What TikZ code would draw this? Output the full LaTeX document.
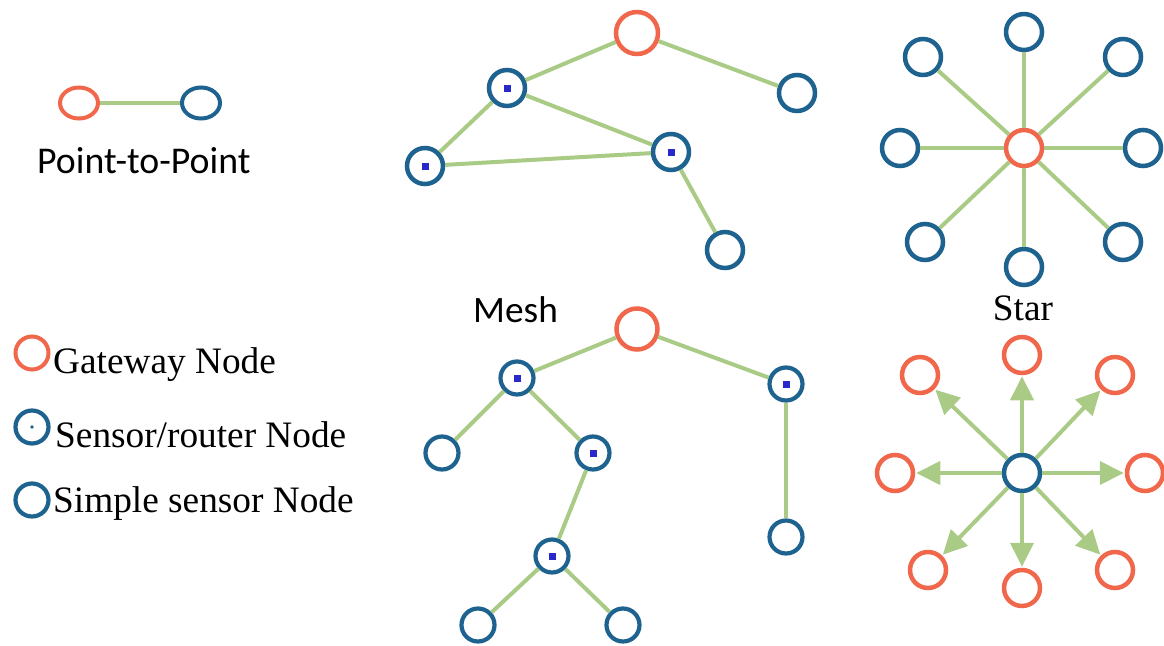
\documentclass[tikz,border=0pt]{standalone}
\usepackage{fontspec}
\setmainfont{Liberation Serif}
\newfontfamily\calib{Carlito}
\usetikzlibrary{shapes.geometric,arrows.meta}
\definecolor{gwc}{RGB}{240,103,75}
\definecolor{bc}{RGB}{30,98,144}
\definecolor{gc}{RGB}{169,203,134}
\definecolor{dc}{RGB}{40,40,205}
\tikzset{
  base/.style={circle,inner sep=0pt,fill=white},
  gw/.style={base,draw=gwc,line width=4.5pt,minimum size=41pt},
  gws/.style={base,draw=gwc,line width=4.5pt,minimum size=36pt},
  ss/.style={base,draw=bc,line width=4.2pt,minimum size=33pt},
  ssb/.style={base,draw=bc,line width=4.5pt,minimum size=36pt},
  srdot/.style={path picture={\fill[dc] (path picture bounding box.center) ++(-3.5pt,-3.5pt) rectangle ++(7pt,7pt);}},
  sr/.style={ss,srdot},
  srb/.style={ssb,srdot},
  ell/.style={ellipse,inner sep=0pt,fill=white,line width=4pt,minimum width=38pt,minimum height=31pt},
  lnk/.style={draw=gc,line width=4pt},
  arr/.style={draw=gc,line width=4pt,-{Triangle[length=24pt 0 0,width=23pt 0 0]},shorten >=1pt},
  sertxt/.style={font=\fontsize{37.3}{40}\selectfont,inner sep=0pt},
  sanstxt/.style={font=\calib\fontsize{37}{40}\selectfont,inner sep=0pt},
}
\begin{document}
\begin{tikzpicture}[x=1pt,y=-1pt]
\useasboundingbox (0,0) rectangle (1164,645);
% Point-to-point legend
\node[ell,draw=gwc] (p1) at (79,103) {};
\node[ell,draw=bc] (p2) at (201,103) {};
\draw[lnk] (p1) -- (p2);
\node[sanstxt,font=\calib\fontsize{37.8}{40}\selectfont,anchor=base west] (ptp) at (37,173) {Point-to-Point};
% node legend
\node[ss,draw=gwc,line width=4pt] (lg) at (32,353) {};
\node[ss] (ls) at (32,427) {};
\fill[bc] (ls.center) circle (1.8pt);
\node[ss] (lp) at (32,500) {};
\node[sertxt,anchor=base west] (tg) at (53,373) {Gateway Node};
\node[sertxt,anchor=base west] (ts) at (55,447) {Sensor/router Node};
\node[sertxt,anchor=base west] (tp) at (53,512) {Simple sensor Node};
% top mesh
\node[gw,minimum size=42pt] (mg) at (637,33) {};
\node[srb] (m1) at (507,88) {};
\node[ssb] (m2) at (797,93) {};
\node[srb] (m3) at (671,152) {};
\node[srb] (m4) at (425,166) {};
\node[ssb] (m5) at (725,250) {};
\draw[lnk] (mg) -- (m1);
\draw[lnk] (mg) -- (m2);
\draw[lnk] (m1) -- (m4);
\draw[lnk] (m1) -- (m3);
\draw[lnk] (m4) -- (m3);
\draw[lnk] (m3) -- (m5);
\node[sanstxt,font=\calib\fontsize{37.3}{40}\selectfont,anchor=base west] (mesh) at (473,322) {Mesh};
% top star
\node[gws] (sc) at (1024,148) {};
\node[ssb] (s1) at (1024,32) {};
\node[ssb] (s2) at (923,57) {};
\node[ssb] (s3) at (1123,57) {};
\node[ssb] (s4) at (900,148) {};
\node[ssb] (s5) at (1143,148) {};
\node[ssb] (s6) at (925,242) {};
\node[ssb] (s7) at (1024,267) {};
\node[ssb] (s8) at (1123,242) {};
\foreach \n in {s1,s2,s3,s4,s5,s6,s7,s8} \draw[lnk] (sc) -- (\n);
\node[sertxt,anchor=base] (star) at (1023,320) {Star};
% bottom tree
\node[gw] (tG) at (637,329) {};
\node[sr] (ta) at (517,378) {};
\node[sr] (tb) at (786,384) {};
\node[ss] (tc) at (442,453) {};
\node[sr] (td) at (593,453) {};
\node[ss] (te) at (786,537) {};
\node[sr] (tf) at (552,556) {};
\node[ss] (tg2) at (478,625) {};
\node[ss] (th) at (623,625) {};
\draw[lnk] (tG) -- (ta);
\draw[lnk] (tG) -- (tb);
\draw[lnk] (ta) -- (tc);
\draw[lnk] (ta) -- (td);
\draw[lnk] (td) -- (tf);
\draw[lnk] (tb) -- (te);
\draw[lnk] (tf) -- (tg2);
\draw[lnk] (tf) -- (th);
% bottom star
\node[ssb] (bc) at (1022,473) {};
\node[gws] (b1) at (1022,355) {};
\node[gws] (b2) at (920,375) {};
\node[gws] (b3) at (1115,375) {};
\node[gws] (b4) at (895,473) {};
\node[gws] (b5) at (1145,473) {};
\node[gws] (b6) at (928,570) {};
\node[gws] (b7) at (1022,588) {};
\node[gws] (b8) at (1115,570) {};
\foreach \n in {b1,b2,b3,b4,b5,b6,b7,b8} \draw[arr] (bc) -- (\n);
\end{tikzpicture}
\end{document}
